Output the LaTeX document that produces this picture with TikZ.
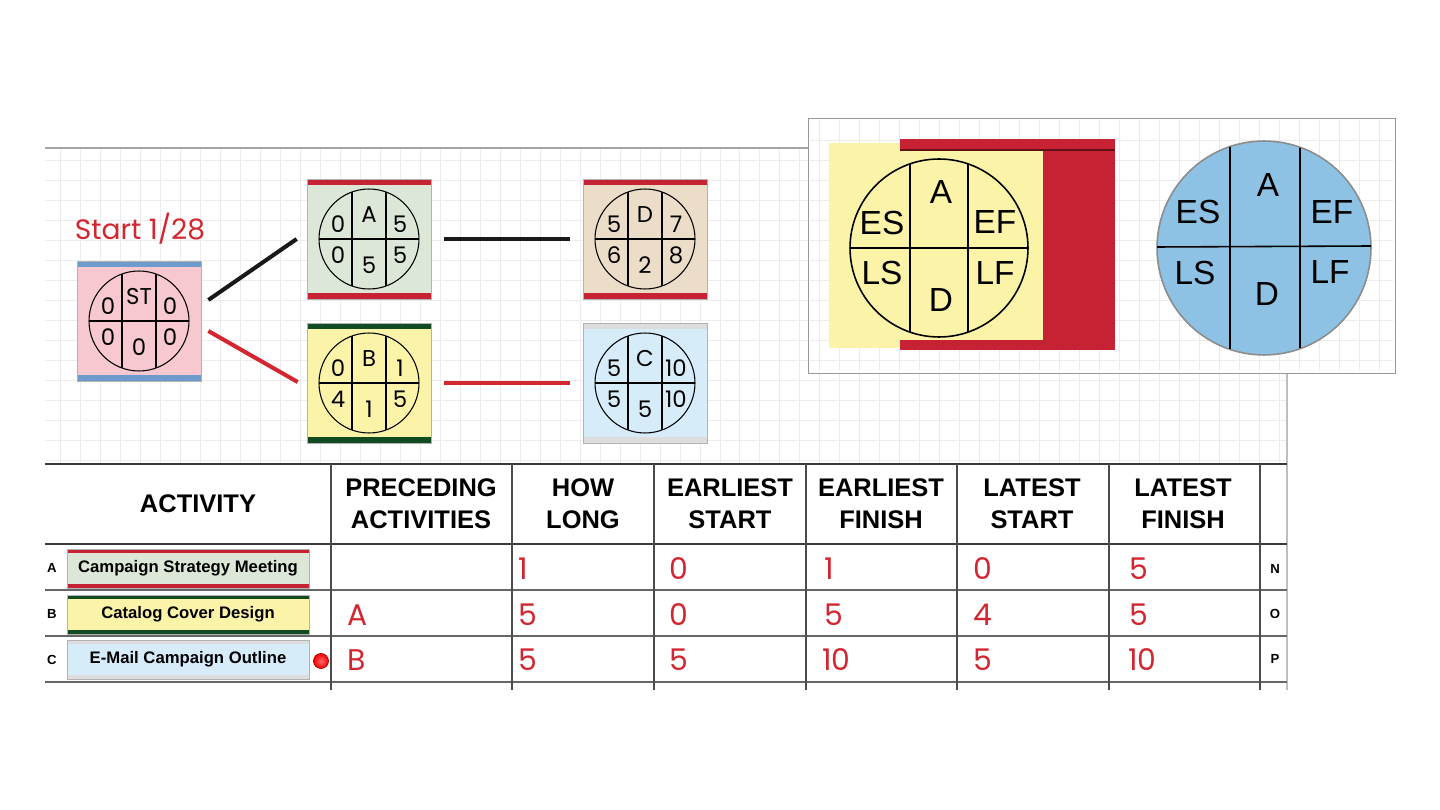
\documentclass[tikz,border=0pt]{standalone}
\usepackage{fontspec}
\setmainfont{Liberation Sans}
\newfontfamily\hand{Poppins}
\usepackage{tikz}
\usetikzlibrary{positioning}

\definecolor{penred}{HTML}{D22630}
\definecolor{barred}{HTML}{C62233}
\definecolor{bargreen}{HTML}{124A22}
\definecolor{barblue}{HTML}{6E9BCB}
\definecolor{bargray}{HTML}{DDDDDD}
\definecolor{notepink}{HTML}{F7C8CF}
\definecolor{notegreen}{HTML}{DDE7D7}
\definecolor{noteyellow}{HTML}{FBF4A8}
\definecolor{notetan}{HTML}{ECDDC9}
\definecolor{noteblue}{HTML}{D6ECF9}
\definecolor{keyblue}{HTML}{8EC2E4}
\definecolor{gridline}{HTML}{ECECEC}
\definecolor{rulegray}{HTML}{3A3A3A}

\tikzset{
  note/.style 2 args={rectangle, draw=black!30, fill=#1, minimum width=2.48cm, minimum height=2.4cm, inner sep=0pt,
    path picture={
      \fill[#2] (path picture bounding box.north west) rectangle ([yshift=-0.12cm]path picture bounding box.north east);
      \fill[#2] (path picture bounding box.south west) rectangle ([yshift=0.12cm]path picture bounding box.south east);}},
  tbar/.style 2 args={rectangle, draw=black!30, fill=#1, minimum width=4.84cm, minimum height=0.78cm, inner sep=0pt,
    font=\bfseries\fontsize{9.5}{11}\selectfont,
    path picture={
      \fill[#2] (path picture bounding box.north west) rectangle ([yshift=-0.08cm]path picture bounding box.north east);
      \fill[#2] (path picture bounding box.south west) rectangle ([yshift=0.08cm]path picture bounding box.south east);}},
  cellval/.style={font=\hand\fontsize{13}{13}\selectfont, inner sep=0pt},
  penval/.style={font=\hand\fontsize{17}{17}\selectfont, text=penred, anchor=west, inner sep=0pt},
  keyval/.style={font=\fontsize{19}{19}\selectfont, inner sep=0pt},
  hdr/.style={font=\bfseries\fontsize{14.5}{18}\selectfont, align=center, inner sep=0pt},
  rowtag/.style={font=\bfseries\fontsize{7.5}{9}\selectfont, inner sep=0pt},
  link/.style={line width=2.3pt, line cap=butt},
}

% circle with the six cells of one activity
\newcommand{\pertcircle}[7]{%
  \draw[line width=0.6pt] (#1.center) circle[radius=1cm];
  \draw[line width=0.6pt] ([shift={(-17,-47)}]#1.center) -- ([shift={(-17,47)}]#1.center)
        ([shift={(17,-47)}]#1.center) -- ([shift={(17,47)}]#1.center)
        ([shift={(-50,0)}]#1.center) -- ([shift={(50,0)}]#1.center);
  \node[cellval] (#1-id) at ([shift={(0,-24)}]#1.center) {#2};
  \node[cellval] (#1-es) at ([shift={(-31,-15)}]#1.center) {#3};
  \node[cellval] (#1-ef) at ([shift={(31,-15)}]#1.center) {#4};
  \node[cellval] (#1-ls) at ([shift={(-31,16)}]#1.center) {#5};
  \node[cellval] (#1-du) at ([shift={(0,26)}]#1.center) {#6};
  \node[cellval] (#1-lf) at ([shift={(31,16)}]#1.center) {#7};
}

\begin{document}
\begin{tikzpicture}[x=0.02cm, y=-0.02cm]
  \useasboundingbox[fill=white] (0,0) rectangle (1440,810);

  % grid paper
  \draw[gridline, step=0.4cm] (45,148) grid (1287,464);
  \draw[black!35, line width=1.2pt] (45,148) -- (1287,148);
  \draw[black!25, line width=1pt] (1287,148) -- (1287,690);

  % legend
  \node[draw=black!40, fill=white, minimum width=11.74cm, minimum height=5.1cm, inner sep=0pt] (legend) at (1101.5,245.5) {};
  \draw[gridline, step=0.4cm] (810,120) grid (1393,371);
  \fill[barred] (900,139) rectangle (1115,350);
  \draw[black!50!barred, line width=0.8pt] (900,150) -- (1115,150);
  \fill[noteyellow] (829,143) rectangle (900,348);
  \fill[noteyellow] (900,151) rectangle (1043,340);
  \draw[line width=0.9pt] (939,248) circle[radius=1.78cm];
  \draw[line width=0.9pt] (910,164) -- (910,332) (968,164) -- (968,332) (850,248) -- (1028,248);
  \node[keyval] (kya) at (941,192) {A};
  \node[keyval] (kyes) at (882,223) {ES};
  \node[keyval] (kyef) at (995,222) {EF};
  \node[keyval] (kyls) at (882,273) {LS};
  \node[keyval] (kylf) at (995,273) {LF};
  \node[keyval] (kyd) at (941,300) {D};
  \fill[keyblue, draw=black!45, line width=0.9pt] (1264,248) circle[radius=2.14cm];
  \draw[line width=0.9pt] (1230,147) -- (1230,349) (1300,148) -- (1300,348) (1157,247) -- (1371,246);
  \node[keyval] (kba) at (1268,185) {A};
  \node[keyval] (kbes) at (1198,212) {ES};
  \node[keyval] (kbef) at (1332,212) {EF};
  \node[keyval] (kbls) at (1195,273) {LS};
  \node[keyval] (kblf) at (1330,272) {LF};
  \node[keyval] (kbd) at (1267,294) {D};

  % network
  \node[font=\hand\fontsize{16}{16}\selectfont, text=penred] (start) at (140,229) {Start 1/28};
  \node[note={notepink}{barblue}] (st) at (139,321) {};
  \node[note={notegreen}{barred}] (a) at (369,239) {};
  \node[note={noteyellow}{bargreen}] (b) at (369,383) {};
  \node[note={notetan}{barred}] (d) at (645,239) {};
  \node[note={noteblue}{bargray}] (c) at (645,383) {};
  \pertcircle{st}{ST}{0}{0}{0}{0}{0}
  \pertcircle{a}{A}{0}{5}{0}{5}{5}
  \pertcircle{b}{B}{0}{1}{4}{1}{5}
  \pertcircle{d}{D}{5}{7}{6}{2}{8}
  \pertcircle{c}{C}{5}{10}{5}{5}{10}

  \draw[link, black!90] ([shift={(7,-21)}]st.east) -- ([shift={(-10,0)}]a.west);
  \draw[link, penred] ([shift={(7,10)}]st.east) -- ([shift={(-9,-1)}]b.west);
  \draw[link, black!90] ([shift={(13,0)}]a.east) -- ([shift={(-13,0)}]d.west);
  \draw[link, penred] ([shift={(13,0)}]b.east) -- ([shift={(-13,0)}]c.west);

  % table
  \draw[rulegray, line width=1.4pt] (45,464) -- (1287,464);
  \draw[rulegray, line width=1.7pt] (45,544) -- (1287,544);
  \foreach \y in {590,636,682}
    \draw[black!60, line width=0.7pt] (45,\y) -- (1287,\y);
  \foreach \x in {331,512,654,806,957,1109,1260}
    \draw[black!70, line width=0.8pt] (\x,464) -- (\x,690);

  \node[hdr] (hact) at (198,504) {ACTIVITY};
  \node[hdr] (hpre) at (421,504) {PRECEDING\\ACTIVITIES};
  \node[hdr] (hlong) at (583,504) {HOW\\LONG};
  \node[hdr] (hes) at (730,504) {EARLIEST\\START};
  \node[hdr] (hef) at (881,504) {EARLIEST\\FINISH};
  \node[hdr] (hls) at (1032,504) {LATEST\\START};
  \node[hdr] (hlf) at (1183,504) {LATEST\\FINISH};

  \node[rowtag] (ta) at (52,568) {A};
  \node[rowtag] (tb) at (52,614) {B};
  \node[rowtag] (tc) at (52,660) {C};
  \node[rowtag] (tn) at (1275,569) {N};
  \node[rowtag] (to) at (1275,614) {O};
  \node[rowtag] (tp) at (1275,659) {P};

  \node[tbar={notegreen}{barred}] (rowa) at (188,568.5) {Campaign Strategy Meeting};
  \node[tbar={noteyellow}{bargreen}] (rowb) at (188,614.5) {Catalog Cover Design};
  \node[tbar={noteblue}{bargray}] (rowc) at (188,659.5) {E-Mail Campaign Outline};
  \node[circle, draw=red!70!black, line width=0.4pt, inner color=red!60!white, outer color=red!95!black,
        minimum size=0.3cm, inner sep=0pt] (flag) at (321,661) {};

  \foreach \x/\v/\n in {518/1/along, 669/0/aes, 824/1/aef, 973/0/als, 1129/5/alf}
    \node[penval] (\n) at (\x,569) {\v};
  \foreach \x/\v/\n in {347/A/bpre, 518/5/blong, 669/0/bes, 824/5/bef, 973/4/bls, 1129/5/blf}
    \node[penval] (\n) at (\x,615) {\v};
  \foreach \x/\v/\n in {347/B/cpre, 518/5/clong, 669/5/ces, 822/10/cef, 973/5/cls, 1128/10/clf}
    \node[penval] (\n) at (\x,660) {\v};
\end{tikzpicture}
\end{document}
